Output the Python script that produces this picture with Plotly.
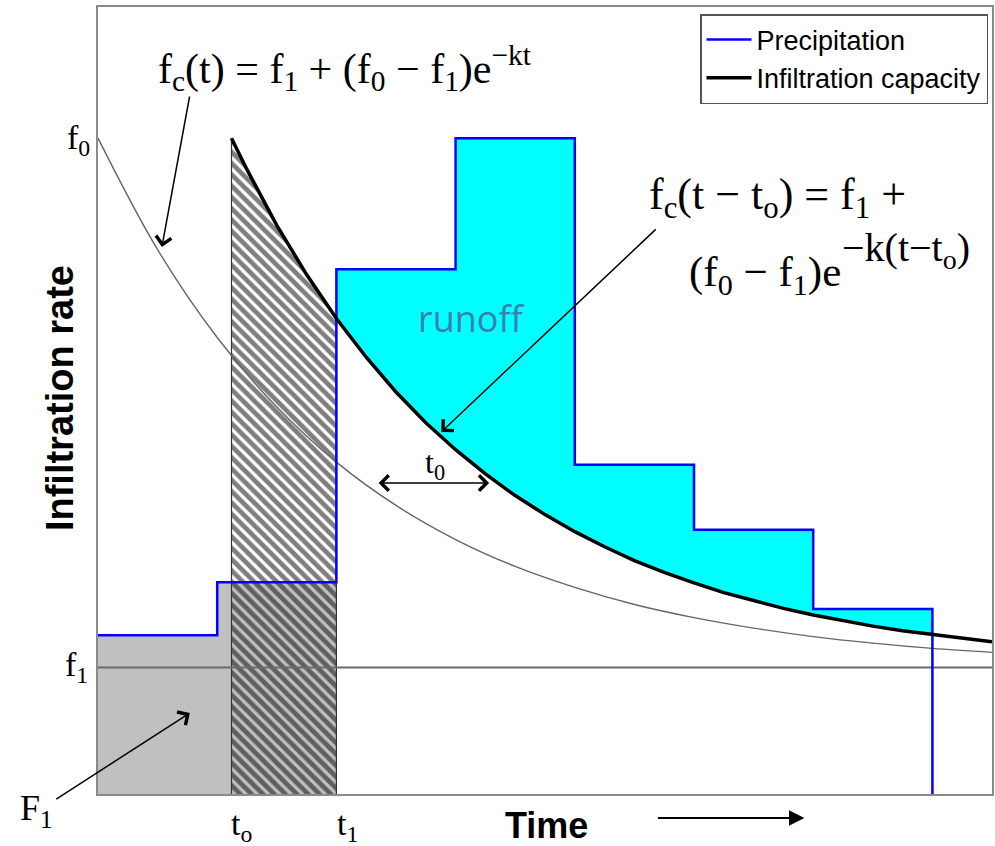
import plotly.graph_objects as go

# ---------------- data ----------------
# precipitation hyetograph: step edges (time units) and intensities
step_edges = [0, 1, 2, 3, 4, 5, 6, 7]
precip = [2.42, 3.23, 8.0, 10.0, 5.02, 4.03, 2.82]

F0 = 10.0      # initial infiltration capacity
F1 = 1.93      # final infiltration capacity
T_O = 1.12     # time shift t_o
T_1 = 2.0      # ponding time t_1

# original infiltration-capacity curve f_c(t) (thin line)
thin_t = [0, 0.5, 1.0, 1.5, 2.0, 2.5, 3.0, 3.5, 4.0, 4.5, 5.0, 5.5, 6.0, 6.5, 7.0, 7.5]
thin_f = [10.0, 8.30, 6.96, 5.90, 5.06, 4.40, 3.88, 3.47, 3.15, 2.89, 2.69, 2.53, 2.40, 2.30, 2.22, 2.16]

# shifted infiltration-capacity curve f_c(t - t_o) (thick line)
thick_t = [1.12, 1.25, 1.5, 1.75, 2.0, 2.25, 2.5, 2.75, 3.0, 3.25, 3.5, 3.75, 4.0, 4.25,
           4.5, 4.75, 5.0, 5.25, 5.5, 5.75, 6.0, 6.25, 6.5, 6.75, 7.0, 7.25, 7.5]
thick_f = [10.0, 9.52, 8.67, 7.92, 7.25, 6.66, 6.13, 5.66, 5.25, 4.88, 4.55, 4.26, 4.00, 3.77,
           3.56, 3.38, 3.22, 3.07, 2.95, 2.83, 2.73, 2.64, 2.56, 2.49, 2.43, 2.37, 2.32]

X_RANGE = [0, 7.5]
Y_RANGE = [0, 12]

# ---------------- layout helpers (pixel -> paper) ----------------
L, R, T, B = 98, 994, 7, 794
def pxx(p):
    return (p - L) / (R - L)
def pxy(p):
    return (B - p) / (B - T)

SERIF = "Liberation Serif, Times New Roman, serif"
SANS = "Liberation Sans, Arial, sans-serif"

fig = go.Figure()

# grey area (F1) under precipitation before ponding time
gx, gy = [step_edges[0]], [0]
for i, p in enumerate(precip):
    if step_edges[i + 1] <= T_1:
        gx += [step_edges[i], step_edges[i + 1]]
        gy += [p, p]
gx.append(gx[-1]); gy.append(0)
fig.add_trace(go.Scatter(x=gx, y=gy, fill="toself", fillcolor="#c0c0c0",
                         line=dict(width=0), mode="lines", showlegend=False, hoverinfo="skip"))

# hatched area under the shifted curve between t_o and t_1
hx = [T_O] + [t for t in thick_t if t <= T_1] + [T_1]
hy = [0] + [f for t, f in zip(thick_t, thick_f) if t <= T_1] + [0]
fig.add_trace(go.Scatter(x=hx, y=hy, fill="toself", fillcolor="rgba(0,0,0,0)",
                         fillpattern=dict(shape="\\", fgcolor="black", bgcolor="rgba(0,0,0,0)",
                                          size=8, solidity=0.6, fillmode="overlay"),
                         line=dict(width=1.2, color="#333"), mode="lines",
                         showlegend=False, hoverinfo="skip"))

# runoff area between precipitation and shifted curve after t_1
cx, cy = [], []
for i, p in enumerate(precip):
    if step_edges[i] >= T_1:
        cx += [step_edges[i], step_edges[i + 1]]
        cy += [p, p]
end_t = cx[-1]
bt = [t for t in thick_t if T_1 <= t <= end_t]
bf = [f for t, f in zip(thick_t, thick_f) if T_1 <= t <= end_t]
cx += bt[::-1]
cy += bf[::-1]
fig.add_trace(go.Scatter(x=cx, y=cy, fill="toself", fillcolor="#00ffff",
                         line=dict(width=0), mode="lines", showlegend=False, hoverinfo="skip"))

# f1 horizontal line
fig.add_trace(go.Scatter(x=X_RANGE, y=[F1, F1], mode="lines",
                         line=dict(color="#6a6a6a", width=2), showlegend=False, hoverinfo="skip"))

# thin original curve
fig.add_trace(go.Scatter(x=thin_t, y=thin_f, mode="lines", line_shape="spline",
                         line=dict(color="#666666", width=1.4), showlegend=False, hoverinfo="skip"))

# precipitation step line
fig.add_trace(go.Scatter(x=step_edges + [step_edges[-1]], y=precip + [precip[-1], 0],
                         mode="lines", line_shape="hv", line=dict(color="#0000ff", width=2.5),
                         name="Precipitation", legendrank=1))

# thick shifted curve
fig.add_trace(go.Scatter(x=thick_t, y=thick_f, mode="lines",
                         line=dict(color="black", width=3.5),
                         name="Infiltration capacity", legendrank=2))

def label(x, y, text, size, family=SERIF, xanchor="left", yanchor="middle", color="black", **kw):
    d = dict(xref="paper", yref="paper", x=pxx(x), y=pxy(y), xanchor=xanchor, yanchor=yanchor,
             text=text, showarrow=False, font=dict(family=family, size=size, color=color))
    d.update(kw)
    return d

ann = []
# formulas
ann.append(label(156, 68, "f<sub>c</sub>(t) = f<sub>1</sub> + (f<sub>0</sub> − f<sub>1</sub>)e<sup>−kt</sup>", 42))
ann.append(label(648, 197, "f<sub>c</sub>(t − t<sub>o</sub>) = f<sub>1</sub> +", 44))
ann.append(label(688, 275, "(f<sub>0</sub> − f<sub>1</sub>)e", 43))
ann.append(label(842, 250, "−k(t−t<sub>o</sub>)", 40))
# runoff label
ann.append(label(472, 318, "runoff", 36, family="Open Sans, Noto Sans, sans-serif",
                 xanchor="center", color="#3b7fab"))
# t0 label
ann.append(label(436, 464, "t<sub>0</sub>", 32, xanchor="center"))
# axis-side labels
ann.append(dict(xref="paper", yref="y", x=0, y=F0, xanchor="right", yanchor="middle", xshift=-6, yshift=-2,
                text="f<sub>0</sub>", showarrow=False, font=dict(family=SERIF, size=34, color="black")))
ann.append(dict(xref="paper", yref="y", x=0, y=F1, xanchor="right", yanchor="middle", xshift=-8, yshift=0,
                text="f<sub>1</sub>", showarrow=False, font=dict(family=SERIF, size=34, color="black")))
ann.append(label(36, 810, "F<sub>1</sub>", 36, xanchor="center"))
ann.append(dict(xref="x", yref="paper", x=T_O, y=pxy(826), xanchor="left", yanchor="middle", xshift=-3,
                text="t<sub>o</sub>", showarrow=False, font=dict(family=SERIF, size=34, color="black")))
ann.append(dict(xref="x", yref="paper", x=T_1, y=pxy(826), xanchor="left", yanchor="middle", xshift=-1,
                text="t<sub>1</sub>", showarrow=False, font=dict(family=SERIF, size=34, color="black")))
# axis titles
ann.append(label(548, 825, "<b>Time</b>", 36, family=SANS, xanchor="center"))
ann.append(label(60, 398, "<b>Infiltration rate</b>", 38, family=SANS, xanchor="center", textangle=-90))

# arrows (tip in paper coords, tail as pixel offset)
def arrow(tip, tail, head=4, size=2.0, width=1.5, side="end"):
    return dict(xref="paper", yref="paper", x=pxx(tip[0]), y=pxy(tip[1]), text="",
                showarrow=True, ax=tail[0] - tip[0], ay=tail[1] - tip[1],
                arrowhead=head, arrowsize=size, arrowwidth=width, arrowcolor="black",
                arrowside=side, startarrowhead=head, startarrowsize=size, standoff=0, startstandoff=0)

ann.append(arrow((162, 247), (190, 95)))
ann.append(arrow((442, 432), (658, 228)))
ann.append(arrow((490, 483), (378, 483), side="end+start"))
ann.append(arrow((190, 713), (55, 800)))
ann.append(arrow((806, 818), (658, 818), head=2, size=1.4, width=2.2))

fig.update_layout(
    width=995, height=846,
    margin=dict(l=L, r=995 - R, t=T, b=846 - B),
    paper_bgcolor="white", plot_bgcolor="white",
    showlegend=True,
    legend=dict(x=pxx(990), y=pxy(14), xanchor="right", yanchor="top",
                bgcolor="white", bordercolor="#555555", borderwidth=1.5,
                font=dict(family=SANS, size=27, color="black"),
                itemwidth=45, tracegroupgap=0),
    annotations=ann,
)
axis_common = dict(showgrid=False, zeroline=False, showticklabels=False, ticks="",
                   showline=True, linecolor="#8a8a8a", linewidth=2, mirror=True, fixedrange=True)
fig.update_xaxes(range=X_RANGE, **axis_common)
fig.update_yaxes(range=Y_RANGE, **axis_common)

fig.write_html("out.html", config={"displayModeBar": False},
               post_script="document.body.style.margin='0px';")
